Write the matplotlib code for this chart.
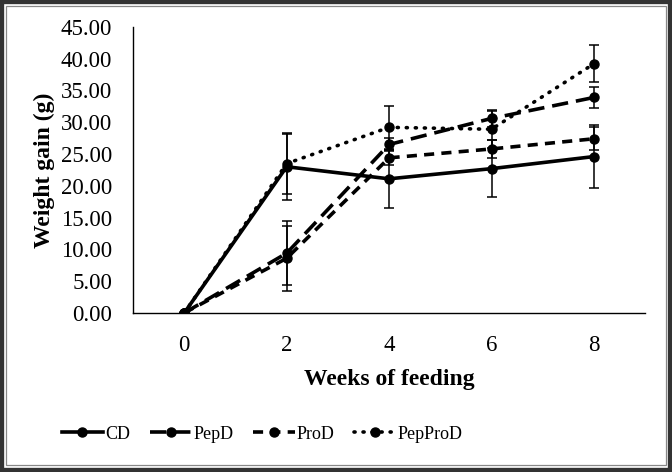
import matplotlib
matplotlib.use("Agg")
import matplotlib.pyplot as plt
from matplotlib.patches import Rectangle

# Weight gain (g) by weeks of feeding
weeks = ["0", "2", "4", "6", "8"]
cd = [0.0, 23.0, 21.1, 22.7, 24.6]
cd_err = [0.0, 5.2, 4.6, 4.5, 4.9]
pepd = [0.0, 9.4, 26.5, 30.6, 33.9]
pepd_err = [0.0, 5.0, 1.1, 1.3, 1.7]
prod = [0.0, 8.6, 24.4, 25.8, 27.4]
prod_err = [0.0, 5.1, 1.2, 1.4, 1.8]
pepprod = [0.0, 23.5, 29.2, 28.9, 39.2]
pepprod_err = [0.0, 4.8, 3.4, 2.9, 2.9]

plt.rcParams["font.family"] = ["Liberation Serif", "DejaVu Serif"]

fig = plt.figure(figsize=(6.72, 4.72), dpi=100)
ax = fig.add_axes([0.198, 0.337, 0.762, 0.606])

x = range(len(weeks))
series = [
    ("CD", cd, cd_err, "-"),
    ("PepD", pepd, pepd_err, (0, (4.5, 2.2))),
    ("ProD", prod, prod_err, (0, (2.8, 2.0))),
    ("PepProD", pepprod, pepprod_err, (0, (0.3, 2.2))),
]
for name, vals, err, ls in series:
    ax.errorbar(x, vals, yerr=err, fmt="none", ecolor="black", elinewidth=1.1,
                capsize=3.5, capthick=1.1, zorder=2)
    ax.plot(x, vals, linestyle=ls, color="black", lw=2.6, marker="o",
            markersize=6.5, label=name, dash_capstyle="round"
            if name == "PepProD" else "butt", zorder=3)

ax.set_xlim(-0.5, 4.5)
ax.set_ylim(0, 45)
ax.set_yticks([i * 5 for i in range(10)])
ax.set_yticklabels([f"{i * 5:.2f}" for i in range(10)])
ax.set_xticks(list(x))
ax.set_xticklabels(weeks)
ax.tick_params(axis="both", length=0, labelsize=16.5)
ax.tick_params(axis="y", pad=15)
ax.tick_params(axis="x", pad=16)
ax.spines["top"].set_visible(False)
ax.spines["right"].set_visible(False)
ax.spines["left"].set_linewidth(1.0)
ax.spines["bottom"].set_linewidth(1.0)
ax.set_ylabel("Weight gain (g)", fontsize=17, fontweight="bold", labelpad=4)
ax.set_xlabel("Weeks of feeding", fontsize=17, fontweight="bold", labelpad=9)

fig.legend(loc="center", bbox_to_anchor=(0.39, 0.08), ncol=4, frameon=False,
           fontsize=13, handlelength=2.3, handletextpad=0.1, columnspacing=1.1)

# Outer frame
fig.patches.append(Rectangle((0, 0), 1, 1, transform=fig.transFigure,
                             fill=False, edgecolor="#333333", lw=6))
fig.patches.append(Rectangle((6 / 672, 7 / 472), 1 - 12 / 672, 1 - 13 / 472,
                             transform=fig.transFigure, fill=False,
                             edgecolor="#888888", lw=0.9))

fig.savefig("out.png", dpi=100)
